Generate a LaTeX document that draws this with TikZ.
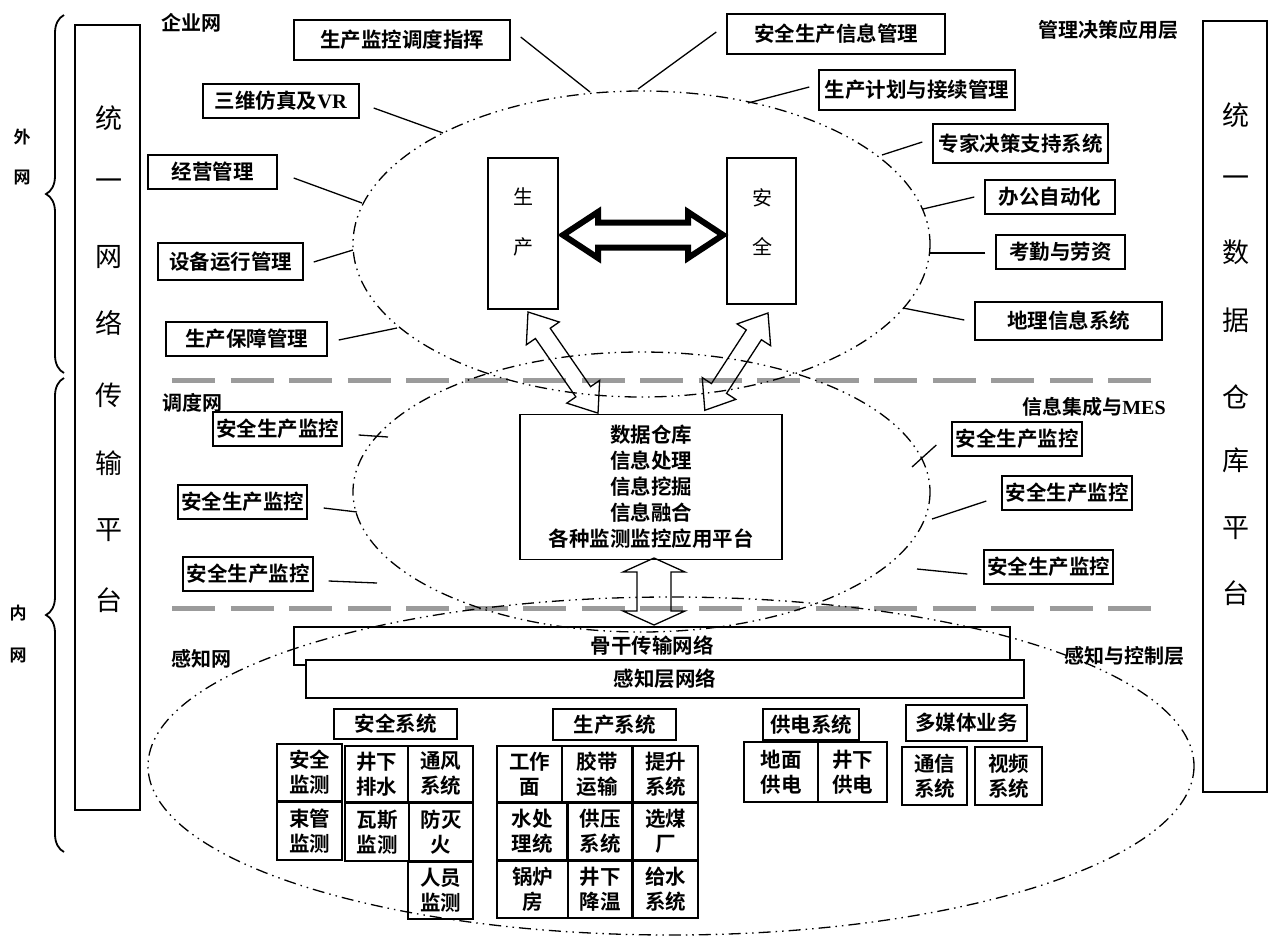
\documentclass[tikz,border=0pt]{standalone}
\usepackage{fontspec}
\setmainfont{Noto Sans CJK SC}[BoldFont=* Bold]
\newfontfamily\tnr{Liberation Serif}
\usetikzlibrary{decorations.pathreplacing,calc}
\definecolor{dgray}{RGB}{155,155,155}
\newcommand\blockarr[8][]{%
\begin{scope}[shift={(#2,#3)},rotate=#4]
\draw[barr,#1] (0,0) -- (#8,#7) -- (#8,#6) -- ({#5-#8},#6) -- ({#5-#8},#7) -- (#5,0) -- ({#5-#8},-#7) -- ({#5-#8},-#6) -- (#8,-#6) -- (#8,-#7) -- cycle;
\end{scope}}
\begin{document}
\begin{tikzpicture}[x=1pt,y=-1pt,
 box/.style={draw,line width=1.4pt,inner sep=0pt,font=\bfseries\fontsize{20.5}{22}\selectfont},
 cell/.style={draw,line width=1.4pt,inner sep=0pt,align=center,font=\bfseries\fontsize{20.5}{25}\selectfont},
 lbl/.style={inner sep=0pt,font=\bfseries\fontsize{20}{22}\selectfont},
 sml/.style={inner sep=0pt,font=\bfseries\fontsize{17}{20}\selectfont},
 big/.style={inner sep=0pt,font=\fontsize{27}{28}\selectfont},
 mid/.style={inner sep=0pt,font=\fontsize{20}{22}\selectfont},
 conn/.style={line width=1.3pt},
 ell/.style={line width=1.3pt,dash pattern=on 12pt off 5pt on 1.5pt off 5pt on 1.5pt off 5pt},
 gdash/.style={line width=5pt,color=dgray,dash pattern=on 43pt off 15.5pt},
 barr/.style={line width=1.3pt,line join=miter},
 brc/.style={decorate,decoration={brace,amplitude=18pt,aspect=0.5},line width=1.8pt}
]
\useasboundingbox (0,0) rectangle (1268,935);

% gray separators
\draw[gdash] (172,380) -- (1157,380);
\draw[gdash] (172,608) -- (1157,608);

% braces and outer labels
\draw[brc] (64,373) -- (64,15);
\draw[brc] (64,852) -- (64,378);
\node[sml] (w1) at (22,137) {外};
\node[sml] (w2) at (22,177) {网};
\node[sml] (i1) at (18,613) {内};
\node[sml] (i2) at (18,655) {网};

% side platform boxes
\node[draw,line width=1.4pt,minimum width=65pt,minimum height=785pt,inner sep=0pt] (L) at (107.5,417.5) {};
\node[draw,line width=1.4pt,minimum width=64pt,minimum height=771pt,inner sep=0pt] (R) at (1235,406.5) {};
\foreach \c/\yy [count=\i] in {统/118,一/185,网/257,络/323,传/395,输/463,平/530,台/600}
  \node[big] (lc\i) at (109,\yy) {\c};
\foreach \c/\yy [count=\i] in {统/115,一/182,数/252,据/320,仓/397,库/460,平/528,台/593}
  \node[big] (rc\i) at (1236,\yy) {\c};

% layer labels
\node[lbl] (t1) at (191,23) {企业网};
\node[lbl] (t2) at (1108,30) {管理决策应用层};
\node[lbl] (t3) at (192,403) {调度网};
\node[lbl] (t4) at (1094,407) {信息集成与{\tnr\bfseries MES}};
\node[lbl] (t5) at (201,659) {感知网};
\node[lbl] (t6) at (1124,656) {感知与控制层};

% top application boxes
\node[box,minimum width=216pt,minimum height=40pt] (n1) at (402,40) {生产监控调度指挥};
\node[box,minimum width=218pt,minimum height=40pt] (n2) at (836,34) {安全生产信息管理};
\node[box,minimum width=196pt,minimum height=40pt] (n3) at (917,90) {生产计划与接续管理};
\node[box,minimum width=156pt,minimum height=34pt] (n4) at (281,101) {三维仿真及{\tnr\bfseries VR}};
\node[box,minimum width=175pt,minimum height=39pt] (n5) at (1020.5,143.5) {专家决策支持系统};
\node[box,minimum width=129pt,minimum height=34pt] (n6) at (212.5,172) {经营管理};
\node[box,minimum width=130pt,minimum height=34pt] (n7) at (1050,197) {办公自动化};
\node[box,minimum width=145pt,minimum height=37pt] (n8) at (230.5,261.5) {设备运行管理};
\node[box,minimum width=129pt,minimum height=34pt] (n9) at (1060.5,252) {考勤与劳资};
\node[box,minimum width=161pt,minimum height=34pt] (n10) at (246.5,339) {生产保障管理};
\node[box,minimum width=187pt,minimum height=38pt] (n11) at (1068.5,321) {地理信息系统};

\coordinate (e1) at (590,92);
\coordinate (e2) at (638,89);
\coordinate (e3) at (748,103);
\coordinate (e4) at (443,133);
\coordinate (e5) at (882,155);
\coordinate (e6) at (362,203);
\coordinate (e7) at (923,209);
\coordinate (e8) at (353,250);
\coordinate (e9) at (930,253);
\coordinate (e10) at (397,328);
\coordinate (e11) at (903,308);
\draw[conn] ($(n1.east)+(10,-3)$) -- (e1);
\draw[conn] ($(n2.west)+(-10,-2)$) -- (e2);
\draw[conn] ($(n3.west)+(-9,-3)$) -- (e3);
\draw[conn] ($(n4.east)+(14,7)$) -- (e4);
\draw[conn] ($(n5.west)+(-10,-1.5)$) -- (e5);
\draw[conn] ($(n6.east)+(16,6)$) -- (e6);
\draw[conn] ($(n7.west)+(-10,0)$) -- (e7);
\draw[conn] ($(n8.east)+(10,0.5)$) -- (e8);
\draw[conn] ($(n9.west)+(-10,1)$) -- (e9);
\draw[conn] ($(n10.east)+(11,1)$) -- (e10);
\draw[conn] ($(n11.west)+(-10,-1)$) -- (e11);

% production / safety core
\node[draw,line width=1.4pt,minimum width=70pt,minimum height=151pt,inner sep=0pt] (sc) at (523,233.5) {};
\node[draw,line width=1.4pt,minimum width=69pt,minimum height=146pt,inner sep=0pt] (aq) at (761.5,231) {};
\node[mid] (sc1) at (523,197) {生};
\node[mid] (sc2) at (523,247) {产};
\node[mid] (aq1) at (762,198) {安};
\node[mid] (aq2) at (762,247) {全};
\blockarr[line width=6pt]{563}{235}{0}{160}{12.5}{23}{35}

% data warehouse box
\node[box,minimum width=262pt,minimum height=145pt,align=center,font=\bfseries\fontsize{20.5}{26}\selectfont] (dw) at (651,487) {数据仓库\\信息处理\\信息挖掘\\信息融合\\各种监测监控应用平台};

\blockarr{528}{312}{-55.3}{123}{9}{20}{26}
\blockarr{768}{313}{-123}{116}{9}{20}{26}
\blockarr{654}{558}{-90}{67}{17}{31}{14}

% monitoring boxes
\node[box,minimum width=129pt,minimum height=34pt] (m1) at (277.5,429) {安全生产监控};
\node[box,minimum width=129pt,minimum height=34pt] (m2) at (242.5,502) {安全生产监控};
\node[box,minimum width=130pt,minimum height=34pt] (m3) at (248,574) {安全生产监控};
\node[box,minimum width=130pt,minimum height=34pt] (r1) at (1017,439) {安全生产监控};
\node[box,minimum width=130pt,minimum height=34pt] (r2) at (1067,493) {安全生产监控};
\node[box,minimum width=129pt,minimum height=34pt] (r3) at (1048.5,567) {安全生产监控};
\coordinate (f1) at (388,437);
\coordinate (f2) at (357,512);
\coordinate (f3) at (377,583);
\coordinate (g1) at (912,467);
\coordinate (g2) at (932,519);
\coordinate (g3) at (917,569);
\draw[conn] ($(m1.east)+(16,6)$) -- (f1);
\draw[conn] ($(m2.east)+(16,6)$) -- (f2);
\draw[conn] ($(m3.east)+(15,7)$) -- (f3);
\draw[conn] ($(r1.west)+(-15,6)$) -- (g1);
\draw[conn] ($(r2.west)+(-15,8)$) -- (g2);
\draw[conn] ($(r3.west)+(-16,7)$) -- (g3);

% network bars
\node[box,minimum width=716pt,minimum height=38pt] (bb) at (652,646) {骨干传输网络};
\node[box,fill=white,minimum width=718pt,minimum height=38pt] (pl) at (665,679) {感知层网络};

% bottom systems
\node[box,minimum width=123pt,minimum height=30pt] (hs) at (395.5,724) {安全系统};
\node[box,minimum width=123pt,minimum height=31pt] (hp) at (614.5,724.5) {生产系统};
\node[box,minimum width=96pt,minimum height=31pt] (hq) at (811,724.5) {供电系统};
\node[box,minimum width=121pt,minimum height=36pt] (hm) at (966.5,723) {多媒体业务};

\node[cell,minimum width=65pt,minimum height=57pt] (c1) at (309.5,772.5) {安全\\监测};
\node[cell,minimum width=63pt,minimum height=56pt] (c2) at (376.5,774) {井下\\排水};
\node[cell,minimum width=65pt,minimum height=56pt] (c3) at (440.5,774) {通风\\系统};
\node[cell,minimum width=65pt,minimum height=58pt] (c4) at (309.5,831) {束管\\监测};
\node[cell,minimum width=64pt,minimum height=58pt] (c5) at (377,832) {瓦斯\\监测};
\node[cell,minimum width=64pt,minimum height=58pt] (c6) at (441,832) {防灭\\火};
\node[cell,minimum width=65pt,minimum height=57pt] (c7) at (440.5,890.5) {人员\\监测};

\node[cell,minimum width=65pt,minimum height=56pt] (p1) at (529.5,774) {工作\\面};
\node[cell,minimum width=70pt,minimum height=56pt] (p2) at (597,774) {胶带\\运输};
\node[cell,minimum width=65pt,minimum height=56pt] (p3) at (665.5,774) {提升\\系统};
\node[cell,minimum width=70pt,minimum height=57pt] (p4) at (532,831.5) {水处\\理统};
\node[cell,minimum width=64pt,minimum height=57pt] (p5) at (600,831.5) {供压\\系统};
\node[cell,minimum width=65pt,minimum height=57pt] (p6) at (665.5,831.5) {选煤\\厂};
\node[cell,minimum width=71pt,minimum height=57pt] (p7) at (532.5,889.5) {锅炉\\房};
\node[cell,minimum width=64pt,minimum height=57pt] (p8) at (600,889.5) {井下\\降温};
\node[cell,minimum width=65pt,minimum height=57pt] (p9) at (665.5,889.5) {给水\\系统};

\node[cell,minimum width=74pt,minimum height=60pt] (q1) at (781,772) {地面\\供电};
\node[cell,minimum width=69pt,minimum height=60pt] (q2) at (852.5,772) {井下\\供电};
\node[cell,minimum width=65pt,minimum height=58pt] (u1) at (934.5,776) {通信\\系统};
\node[cell,minimum width=67pt,minimum height=58pt] (u2) at (1008.5,776) {视频\\系统};

% layer ellipses
\draw[ell] (641.5,244) ellipse [x radius=288.5, y radius=153];
\draw[ell] (641.5,492) ellipse [x radius=288.5, y radius=140];
\draw[ell] (671,766) ellipse [x radius=523, y radius=169];
\end{tikzpicture}
\end{document}
